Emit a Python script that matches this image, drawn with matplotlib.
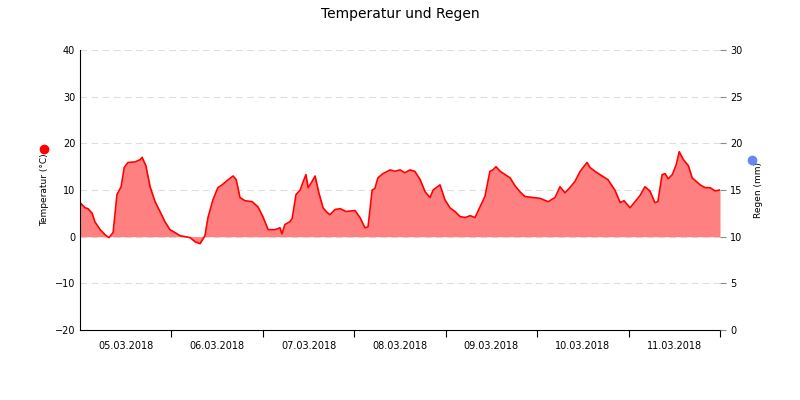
import matplotlib
matplotlib.use("Agg")
import matplotlib.pyplot as plt
from matplotlib.lines import Line2D

hours = [0,1.3,2.1,3.2,3.9,5.3,6.6,7.6,8.7,9.7,10.8,11.6,12.6,14.4,15.8,16.3,17.3,18.4,19.7,21,22.3,23.6,24.9,26.3,27.6,28.9,30.2,31.5,32.8,33.6,34.9,36.2,37.3,38.9,40.2,41,42,43.3,45.2,46.7,48,49.4,51.2,52.5,53,53.8,55.1,55.7,56.7,57.8,58.5,59.3,59.9,60.9,61.7,62.7,63.8,64.6,65.6,66.9,68.3,69.8,72.2,73.5,74.8,75.6,76.7,77.4,78.2,79.5,81.4,82.7,84,85.3,86.6,87.9,89.3,90.6,91.9,92.7,94.5,95.8,97.1,98.4,99.8,101.1,102.4,103.7,105,106.3,107.6,108.4,109.2,110.3,111.6,112.9,114.2,115.5,116.8,118.7,120.8,122.9,124.7,126,127.3,128.6,129.9,131.3,133.1,133.9,135.2,136.5,138.6,140.4,141.8,142.8,144.4,145.7,147,148.3,149.6,150.9,151.7,152.8,153.6,154.4,155.5,156.5,157.3,158.4,159.7,160.7,162.8,164.1,165.4,166.7,168]
temps = [7.3,6.2,6,5,3.2,1.5,0.4,-0.2,0.9,9,10.7,14.8,15.9,16,16.5,17,15.2,10.7,7.5,5.4,3.2,1.5,0.9,0.2,0,-0.2,-1.1,-1.5,0.2,4.1,7.9,10.5,11.1,12.2,13,12.2,8.4,7.7,7.5,6.4,4.3,1.5,1.5,1.9,0.6,2.6,3.2,3.9,9,10,11.6,13.3,10.5,11.8,13,9.4,6.2,5.4,4.7,5.8,6,5.4,5.6,4.1,1.9,2.1,10,10.3,12.6,13.5,14.3,14,14.3,13.7,14.3,14,12.2,9.6,8.4,10,11.1,7.9,6.2,5.4,4.3,4.1,4.5,4.1,6.4,8.6,14,14.3,15,14,13.3,12.6,10.9,9.6,8.6,8.4,8.2,7.5,8.4,10.7,9.4,10.5,11.8,14,15.9,14.8,14,13.3,12.2,10,7.3,7.7,6.2,7.5,8.8,10.7,9.8,7.3,7.5,13.3,13.5,12.4,13.3,15.4,18.2,16.5,15.2,12.6,11.1,10.5,10.5,9.8,10]
day_labels = ["05.03.2018","06.03.2018","07.03.2018","08.03.2018","09.03.2018","10.03.2018","11.03.2018"]

fig = plt.figure(figsize=(8, 4), dpi=100)
ax = fig.add_axes([0.1, 0.175, 0.8, 0.7])
ax.fill_between(hours, temps, 0, color="#ff8080", lw=0)
ax.plot(hours, temps, color="#ff0000", lw=1.2)
ax.set_xlim(0, 168)
ax.set_ylim(-20, 40)
ax.set_yticks(range(-20, 41, 10))
for y in range(-10, 41, 10):
    ax.axhline(y, color="#dddddd", lw=0.8, ls=(0, (6, 4)), zorder=0)
ax.set_xticks([24*k for k in range(1, 8)])
ax.set_xticklabels([])
ax.set_xticks([12 + 24*k for k in range(7)], minor=True)
ax.set_xticklabels(day_labels, minor=True, fontsize=7)
ax.tick_params(axis="x", which="minor", length=0, pad=8)
ax.tick_params(axis="x", which="major", length=5)
ax.tick_params(axis="y", labelsize=7, length=0)
for s in ["top", "right"]:
    ax.spines[s].set_visible(False)
ax.set_ylabel("Temperatur (°C)", fontsize=6.5)
ax2 = ax.twinx()
ax2.set_ylim(0, 30)
ax2.set_yticks(range(0, 31, 5))
ax2.tick_params(axis="y", labelsize=7, length=4, color="#888888")
for s in ["top", "right", "left", "bottom"]:
    ax2.spines[s].set_visible(False)
ax2.set_ylabel("Regen (mm)", fontsize=6.5, labelpad=8)
fig.text(0.5, 0.955, "Temperatur und Regen", ha="center", fontsize=10)
fig.add_artist(Line2D([44/800], [1-149/400], transform=fig.transFigure, marker="o", markersize=6, color="#ff0000", ls=""))
fig.add_artist(Line2D([752/800], [1-160/400], transform=fig.transFigure, marker="o", markersize=6, color="#6688ee", ls=""))
fig.savefig("out.png")
